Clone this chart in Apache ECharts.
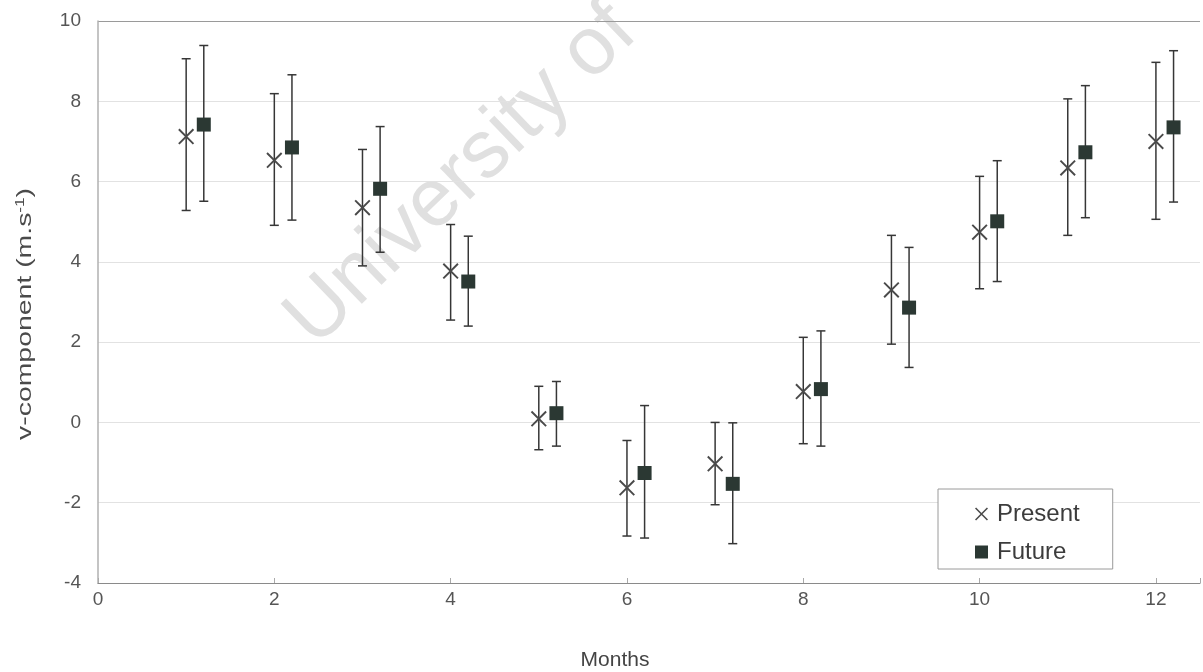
<!DOCTYPE html>
<html>
<head>
<meta charset="utf-8">
<script src="https://cdn.jsdelivr.net/npm/echarts@6/dist/echarts.min.js"></script>
<style>
  html, body { margin: 0; padding: 0; background: #fff; }
  #chart { width: 1203px; height: 672px; }
</style>
</head>
<body>
<div id="chart"></div>
<script>
// Monthly mean v-component of wind, with spread, for present and future climate
const months = [1, 2, 3, 4, 5, 6, 7, 8, 9, 10, 11, 12];
const presentMean = [7.12, 6.53, 5.35, 3.77, 0.09, -1.63, -1.03, 0.77, 3.30, 4.74, 6.34, 7.00];
const presentHigh = [9.06, 8.19, 6.80, 4.93, 0.90, -0.45, 0.00, 2.12, 4.66, 6.13, 8.06, 8.97];
const presentLow  = [5.28, 4.91, 3.90, 2.55, -0.68, -2.83, -2.05, -0.53, 1.95, 3.33, 4.66, 5.06];
const futureMean  = [7.42, 6.85, 5.82, 3.51, 0.23, -1.26, -1.53, 0.83, 2.86, 5.01, 6.73, 7.35];
const futureHigh  = [9.39, 8.66, 7.37, 4.64, 1.02, 0.42, -0.01, 2.28, 4.36, 6.52, 8.39, 9.26];
const futureLow   = [5.51, 5.04, 4.24, 2.40, -0.59, -2.88, -3.02, -0.59, 1.37, 3.51, 5.10, 5.49];
const yTicks = [-4, -2, 0, 2, 4, 6, 8, 10];
const xTicks = [0, 2, 4, 6, 8, 10, 12];

// future values are drawn slightly to the right of each month
const FUTURE_SHIFT = 0.2;

const FONT = '"Liberation Sans", Arial, sans-serif';
const BAR_COLOR = '#363636';
const CROSS_COLOR = '#4a4a4a';
const SQUARE_COLOR = '#2b3833';

// filled "x" outline so it works both as marker and legend icon
const T = 1.7;
const crossPath = 'path://M0,' + T + 'L' + T + ',0L20,' + (20 - T) + 'L' + (20 - T) + ',20Z' +
  'M' + (20 - T) + ',0L20,' + T + 'L' + T + ',20L0,' + (20 - T) + 'Z';

const presentPts = months.map((m, i) => [m, presentMean[i]]);
const futurePts = months.map((m, i) => [m + FUTURE_SHIFT, futureMean[i]]);
const presentBars = months.map((m, i) => [m, presentLow[i], presentHigh[i]]);
const futureBars = months.map((m, i) => [m + FUTURE_SHIFT, futureLow[i], futureHigh[i]]);

function errorBar(params, api) {
  const x = api.value(0);
  const top = api.coord([x, api.value(2)]);
  const bot = api.coord([x, api.value(1)]);
  const hw = 4.5;
  const style = { stroke: BAR_COLOR, lineWidth: 1.5 };
  return {
    type: 'group',
    children: [
      { type: 'line', shape: { x1: top[0], y1: top[1], x2: bot[0], y2: bot[1] }, style: style },
      { type: 'line', shape: { x1: top[0] - hw, y1: top[1], x2: top[0] + hw, y2: top[1] }, style: style },
      { type: 'line', shape: { x1: bot[0] - hw, y1: bot[1], x2: bot[0] + hw, y2: bot[1] }, style: style }
    ]
  };
}

const chart = echarts.init(document.getElementById('chart'), null, { renderer: 'canvas' });

chart.setOption({
  animation: false,
  backgroundColor: '#ffffff',
  grid: { left: 98, top: 21, width: 1106, height: 562, containLabel: false },
  graphic: [
    {
      // faint diagonal watermark behind the marks
      type: 'text',
      x: 328, y: 362,
      rotation: 44 * Math.PI / 180,
      z: 0,
      silent: true,
      style: {
        text: 'University of',
        font: '82px ' + FONT,
        fill: '#e0e0e0',
        align: 'left',
        verticalAlign: 'bottom'
      }
    },
    {
      // y-axis title
      type: 'text',
      x: 25, y: 314,
      rotation: Math.PI / 2,
      scaleX: 1.42,
      silent: true,
      style: {
        text: 'v-component (m.s{sup|-1})',
        font: '20px ' + FONT,
        fill: '#4a4a4a',
        align: 'center',
        verticalAlign: 'middle',
        rich: { sup: { font: '12px ' + FONT, fill: '#4a4a4a', verticalAlign: 'top', padding: [0, 0, 8, 0] } }
      }
    },
    {
      // x-axis title
      type: 'text',
      x: 615, y: 660,
      silent: true,
      style: {
        text: 'Months',
        font: '21px ' + FONT,
        fill: '#444',
        align: 'center',
        verticalAlign: 'middle'
      }
    }
  ],
  legend: {
    orient: 'vertical',
    left: 938, top: 489,
    padding: [13, 33, 5, 37],
    itemGap: 14,
    itemWidth: 13, itemHeight: 13,
    backgroundColor: '#ffffff',
    borderColor: '#9a9a9a',
    borderWidth: 1,
    borderRadius: 0,
    textStyle: { fontFamily: FONT, fontSize: 24, color: '#3c3c3c', lineHeight: 24, padding: [0, 0, 0, 4] },
    data: [
      { name: 'Present', icon: crossPath, itemStyle: { color: CROSS_COLOR } },
      { name: 'Future', icon: 'rect', itemStyle: { color: SQUARE_COLOR } }
    ]
  },
  xAxis: {
    type: 'value',
    min: 0, max: 12.5, interval: 2,
    axisLine: { show: true, onZero: false, lineStyle: { color: '#8a8a8a', width: 1.2 } },
    axisTick: { show: true, inside: true, length: 5, lineStyle: { color: '#aaa' } },
    splitLine: { show: false },
    axisLabel: {
      margin: 7,
      fontFamily: FONT, fontSize: 19, color: '#555',
      formatter: v => (xTicks.indexOf(v) >= 0 ? String(v) : '')
    }
  },
  yAxis: {
    type: 'value',
    min: -4, max: 10, interval: 2,
    axisLine: { show: true, onZero: false, lineStyle: { color: '#b0b0b0', width: 1.5 } },
    axisTick: { show: false },
    splitLine: {
      show: true,
      lineStyle: { color: ['#9a9a9a', '#e2e2e2', '#e2e2e2', '#e2e2e2', '#e2e2e2', '#e2e2e2', '#e2e2e2', '#9a9a9a'].reverse(), width: 1.2 }
    },
    axisLabel: {
      margin: 17,
      fontFamily: FONT, fontSize: 19, color: '#555',
      formatter: v => (yTicks.indexOf(v) >= 0 ? String(v) : '')
    }
  },
  series: [
    {
      name: 'Present range', type: 'custom', renderItem: errorBar,
      encode: { x: 0, y: [1, 2] }, data: presentBars, z: 3, silent: true
    },
    {
      name: 'Future range', type: 'custom', renderItem: errorBar,
      encode: { x: 0, y: [1, 2] }, data: futureBars, z: 3, silent: true
    },
    {
      name: 'Present', type: 'scatter', data: presentPts,
      symbol: crossPath, symbolSize: 16,
      itemStyle: { color: CROSS_COLOR, opacity: 1 }, z: 4
    },
    {
      name: 'Future', type: 'scatter', data: futurePts,
      symbol: 'rect', symbolSize: 14,
      itemStyle: { color: SQUARE_COLOR, opacity: 1 }, z: 4
    }
  ]
});
</script>
</body>
</html>
